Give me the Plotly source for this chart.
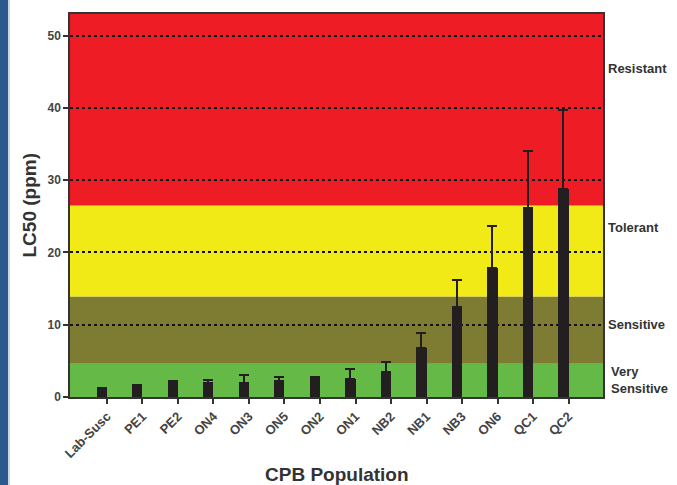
import plotly.graph_objects as go

categories = ["Lab-Susc", "PE1", "PE2", "ON4", "ON3", "ON5", "ON2", "ON1",
              "NB2", "NB1", "NB3", "ON6", "QC1", "QC2"]
lc50 = [1.3, 1.6, 2.2, 1.95, 1.95, 2.2, 2.8, 2.5, 3.4, 6.85, 12.5, 17.8, 26.1, 28.75]
upper_ci = [1.3, 1.6, 2.2, 2.4, 3.05, 2.7, 2.8, 3.9, 4.85, 8.9, 16.25, 23.65, 34.0, 39.7]
err_up = [round(u - v, 3) for u, v in zip(upper_ci, lc50)]

band_edges = [0, 4.6, 13.9, 26.5, 53]
band_colors = ["#65B946", "#7E7C33", "#F2EA17", "#EE1D25"]
band_labels = ["Very<br>Sensitive", "Sensitive", "Tolerant", "Resistant"]
label_y = [2.3, 10, 23.4, 45.5]

W, H = 677, 485
ml, mr, mt, mb = 70, 74, 14, 88
pw = W - ml - mr
ph = H - mt - mb

font = "Liberation Sans, Arial, sans-serif"

fig = go.Figure()
fig.add_trace(go.Bar(
    x=categories, y=lc50,
    width=0.29, offset=-0.29,
    marker=dict(color="#231F20", line=dict(width=0)),
    error_y=dict(type="data", array=err_up, arrayminus=[0] * len(err_up),
                 symmetric=False, color="#231F20", thickness=2, width=5),
    showlegend=False,
))

shapes = []
for i, c in enumerate(band_colors):
    shapes.append(dict(type="rect", xref="paper", yref="y", x0=0, x1=1,
                       y0=band_edges[i], y1=band_edges[i + 1],
                       fillcolor=c, line=dict(width=0), layer="below"))
# left page stripe
shapes.append(dict(type="rect", xref="paper", yref="paper",
                   x0=-ml / pw, x1=(8 - ml) / pw, y0=-mb / ph,
                   y1=1 + mt / ph, fillcolor="#2A5A8C",
                   line=dict(width=0), layer="below"))
shapes.append(dict(type="rect", xref="paper", yref="paper",
                   x0=(8 - ml) / pw, x1=(10 - ml) / pw, y0=-mb / ph,
                   y1=1 + mt / ph, fillcolor="#C9D7E6",
                   line=dict(width=0), layer="below"))

annotations = []
for lab, yv in zip(band_labels, label_y):
    annotations.append(dict(text="<b>" + lab + "</b>", x=1, xref="paper", y=yv, yref="y",
                            xanchor="left", yanchor="middle", xshift=3 if "Very" not in lab else 6,
                            showarrow=False, align="left",
                            font=dict(family=font, size=13, color="#333333")))
annotations.append(dict(text="<b>CPB Population</b>", x=0.5, xref="paper", y=-(480 - mt - ph) / ph,
                        yref="paper", xanchor="center", yanchor="bottom", showarrow=False,
                        yshift=-7,
                        font=dict(family=font, size=19, color="#333333")))
annotations.append(dict(text="<b>LC50 (ppm)</b>", x=(29 - ml) / pw, xref="paper", y=0.5,
                        yref="paper", xanchor="center", yanchor="middle", showarrow=False,
                        textangle=-90, font=dict(family=font, size=19, color="#333333")))

fig.update_layout(
    width=W, height=H,
    margin=dict(l=ml, r=mr, t=mt, b=mb, autoexpand=False),
    paper_bgcolor="white", plot_bgcolor="white",
    shapes=shapes, annotations=annotations,
    bargap=0,
    xaxis=dict(
        type="category", range=[-1.04, 13.97], automargin=False,
        tickangle=-45, ticks="outside", ticklen=5, tickwidth=1.5, tickcolor="#333",
        tickfont=dict(family=font, size=13, color="#444", weight="bold"),
        showline=True, linecolor="#333", linewidth=1.5, mirror=True,
        showgrid=False,
    ),
    yaxis=dict(
        range=[0, 53], tickvals=[0, 10, 20, 30, 40, 50], automargin=False,
        ticks="outside", ticklen=5, tickwidth=1.5, tickcolor="#333",
        tickfont=dict(family=font, size=12, color="#444", weight="bold"),
        showline=True, linecolor="#333", linewidth=1.5, mirror=True,
        showgrid=True, gridcolor="#111", gridwidth=1.5, griddash="dot",
        zeroline=False,
    ),
)

fig.write_html("out.html", config={"displayModeBar": False},
               post_script="document.body.style.margin='0';")
